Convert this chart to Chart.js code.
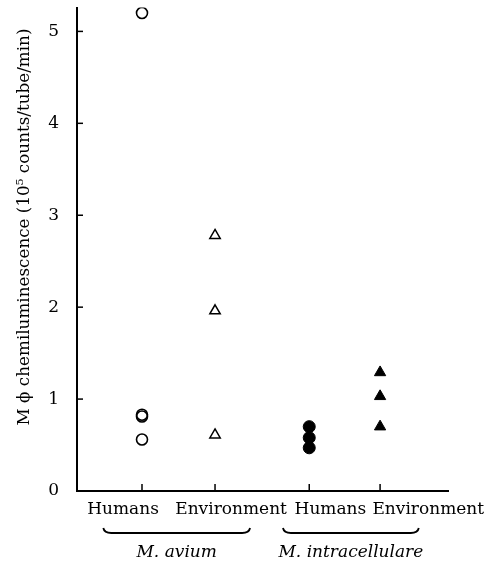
<!DOCTYPE html>
<html>
<head>
<meta charset="utf-8">
<script src="https://cdn.jsdelivr.net/npm/chart.js@4.4.0/dist/chart.umd.min.js"></script>
<style>
  html, body { margin: 0; padding: 0; background: #fff; }
  #wrap { width: 495px; height: 566px; }
</style>
</head>
<body>
<div id="wrap"><canvas id="myChart" width="495" height="566"></canvas></div>
<script>
// category positions along x (uneven spacing, as in the figure)
const categories = ['Humans', 'Environment', 'Humans', 'Environment'];
const catPos = [0.89, 1.89, 3.18, 4.15];
const labelPos = [0.63, 2.11, 3.47, 4.81];
const groups = ['M. avium', 'M. intracellulare'];
const groupSpan = [[0.36, 2.37], [2.82, 4.68]];
const yTicks = [0, 1, 2, 3, 4, 5];
const yTitle = 'M \u03d5 chemiluminescence (10\u2075 counts/tube/min)';

// values (10^5 counts/tube/min)
const aviumHumans = [5.2, 0.83, 0.81, 0.56];
const aviumEnv = [2.78, 1.96, 0.61];
const intraHumans = [0.70, 0.58, 0.47];
const intraEnv = [1.29, 1.03, 0.70];

function pts(x, vals) {
  return vals.map(v => ({ x: x, y: v }));
}

const serif = "'DejaVu Serif', serif";

const extras = {
  id: 'extras',
  afterDraw(chart) {
    const ctx = chart.ctx;
    const xs = chart.scales.x, ys = chart.scales.y;
    const base = ys.getPixelForValue(0);
    ctx.save();
    ctx.strokeStyle = '#000';
    ctx.lineWidth = 1.5;
    // inward tick marks
    yTicks.forEach(v => {
      const py = ys.getPixelForValue(v);
      ctx.beginPath();
      ctx.moveTo(xs.left, py);
      ctx.lineTo(xs.left + 6, py);
      ctx.stroke();
    });
    catPos.forEach(v => {
      const px = xs.getPixelForValue(v);
      ctx.beginPath();
      ctx.moveTo(px, base);
      ctx.lineTo(px, base - 7);
      ctx.stroke();
    });
    // category labels
    ctx.fillStyle = '#000';
    ctx.font = '17px ' + serif;
    ctx.textAlign = 'center';
    ctx.textBaseline = 'middle';
    categories.forEach((c, i) => {
      ctx.fillText(c, xs.getPixelForValue(labelPos[i]), 510);
    });
    // braces + group names
    ctx.lineWidth = 1.8;
    groups.forEach((g, i) => {
      const x0 = xs.getPixelForValue(groupSpan[i][0]);
      const x1 = xs.getPixelForValue(groupSpan[i][1]);
      const y = 533;
      ctx.beginPath();
      ctx.moveTo(x0, y - 5);
      ctx.quadraticCurveTo(x0 + 1, y, x0 + 8, y);
      ctx.lineTo(x1 - 8, y);
      ctx.quadraticCurveTo(x1 - 1, y, x1, y - 5);
      ctx.stroke();
      ctx.font = 'italic 17px ' + serif;
      ctx.fillText(g, (x0 + x1) / 2, 553);
    });
    // y axis title
    ctx.translate(25, 227);
    ctx.rotate(-Math.PI / 2);
    ctx.font = '16.8px ' + serif;
    ctx.fillText(yTitle, 0, 0);
    ctx.restore();
  }
};

window.onload = function() {
  const ctx = document.getElementById('myChart').getContext('2d');
  new Chart(ctx, {
    type: 'scatter',
    data: {
      datasets: [
        {
          label: 'M. avium Humans',
          data: pts(catPos[0], aviumHumans),
          pointStyle: 'circle',
          pointRadius: 5.5,
          borderColor: '#000',
          backgroundColor: 'rgba(0,0,0,0)',
          borderWidth: 1.6
        },
        {
          label: 'M. avium Environment',
          data: pts(catPos[1], aviumEnv),
          pointStyle: 'triangle',
          pointRadius: 6,
          borderColor: '#000',
          backgroundColor: 'rgba(0,0,0,0)',
          borderWidth: 1.5
        },
        {
          label: 'M. intracellulare Humans',
          data: pts(catPos[2], intraHumans),
          pointStyle: 'circle',
          pointRadius: 6,
          borderColor: '#000',
          backgroundColor: '#000',
          borderWidth: 1
        },
        {
          label: 'M. intracellulare Environment',
          data: pts(catPos[3], intraEnv),
          pointStyle: 'triangle',
          pointRadius: 6.5,
          borderColor: '#000',
          backgroundColor: '#000',
          borderWidth: 1
        }
      ]
    },
    options: {
      responsive: false,
      animation: false,
      layout: { padding: { top: 7, right: 47, left: 0, bottom: 0 } },
      plugins: {
        legend: { display: false },
        tooltip: { enabled: false }
      },
      scales: {
        x: {
          type: 'linear',
          min: 0,
          max: 5.08,
          grid: { display: false },
          border: { display: true, color: '#000', width: 2 },
          ticks: { display: false },
          afterFit: s => { s.height = 75; s.paddingLeft = 0; s.paddingRight = 0; }
        },
        y: {
          min: 0,
          max: 5.26,
          grid: { display: false },
          border: { display: true, color: '#000', width: 2 },
          afterBuildTicks: s => { s.ticks = yTicks.map(v => ({ value: v })); },
          ticks: {
            color: '#000',
            padding: 10,
            font: { family: 'DejaVu Serif', size: 17 }
          },
          afterFit: s => { s.width = 77; s.paddingTop = 0; s.paddingBottom = 0; }
        }
      }
    },
    plugins: [extras]
  });
};
</script>
</body>
</html>
